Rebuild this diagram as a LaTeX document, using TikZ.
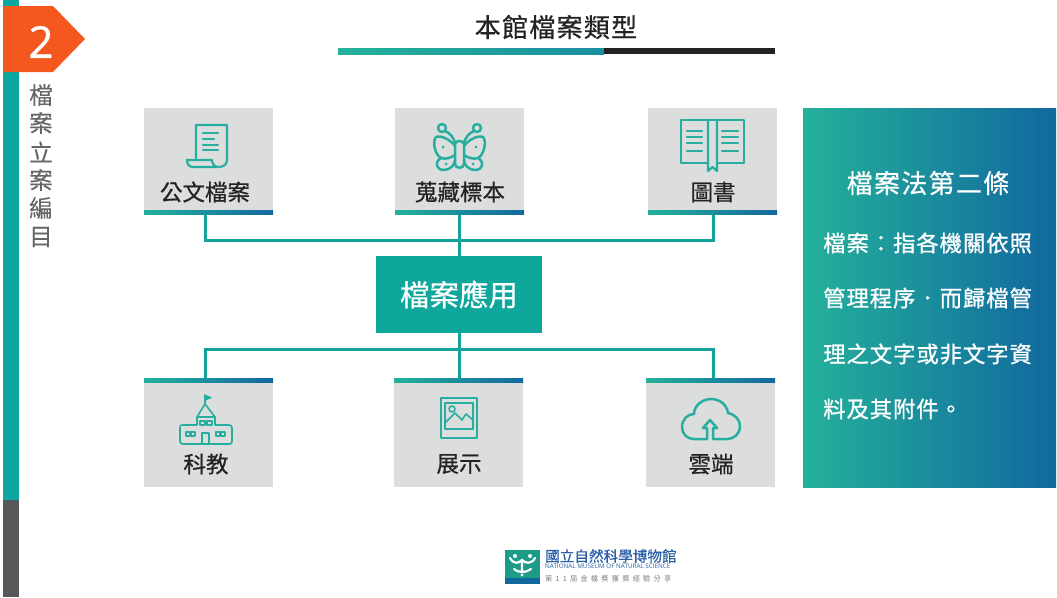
\documentclass[tikz,border=0pt]{standalone}
\usepackage{fontspec}
\usetikzlibrary{calc}
\setmainfont{Open Sans}
\newfontfamily\cjk{Noto Sans CJK TC}
\newfontfamily\cjkv[FakeBold=0.25]{Noto Sans CJK TC}
\newfontfamily\cjkh[FakeBold=0.5]{Noto Sans CJK TC}
\newfontfamily\cjkb[FakeBold=0.6]{Noto Sans CJK TC}
\newfontfamily\cjkt[FakeBold=0.9,LetterSpace=4]{Noto Sans CJK TC}
\newfontfamily\numf[FakeBold=0.7]{Open Sans}
\definecolor{teal1}{HTML}{12A39B}
\definecolor{teal2}{HTML}{0CA7A0}
\definecolor{hubc}{HTML}{0FA79C}
\definecolor{icon}{HTML}{27AEA0}
\definecolor{grn}{HTML}{24B19A}
\definecolor{midb}{HTML}{1B8FA0}
\definecolor{blu}{HTML}{11689F}
\definecolor{boxg}{HTML}{DCDDDD}
\definecolor{org}{HTML}{F4581F}
\definecolor{dark}{HTML}{232323}
\definecolor{sidegray}{HTML}{58585A}
\definecolor{vtxt}{HTML}{666666}
\definecolor{lgreen}{HTML}{1C9C86}
\definecolor{lblue}{HTML}{2A5FA5}
\tikzset{
  x=1pt,y=-1pt,
  catbox/.style={fill=boxg,minimum width=129pt,inner sep=0pt,outer sep=0pt},
  lab/.style={font=\cjkb\fontsize{22.5}{22.5}\selectfont,text=dark,inner sep=0pt},
  vch/.style={font=\cjkv\fontsize{23.5}{23.5}\selectfont,text=vtxt,inner sep=0pt},
  pline/.style={font=\cjkt\fontsize{22.4}{22.4}\selectfont,text=white,inner sep=0pt,anchor=west},
  conn/.style={draw=teal1,line width=3pt,line join=miter},
  ic/.style={draw=icon,line width=2.2pt,line join=round,line cap=round},
  ict/.style={draw=icon,line width=1.6pt,line join=round,line cap=round},
  gbar/.style={left color=grn,right color=blu,draw=none}
}
\begin{document}
\begin{tikzpicture}
\useasboundingbox (0,0) rectangle (1057,597);
\fill[white] (0,0) rectangle (1057,597);
% side bar
\fill[teal2] (3,0) rectangle (19,500);
\fill[sidegray] (3,500) rectangle (19,597);
\fill[org] (3,6) -- (53,6) -- (85,39) -- (53,72) -- (3,72) -- cycle;
\node[text=white,font=\numf\fontsize{44}{44}\selectfont,inner sep=0pt] (num) at (41,42) {2};
\node[vch] (v1) at (41,95) {檔};
\node[vch] (v2) at (41,123) {案};
\node[vch] (v3) at (41,152) {立};
\node[vch] (v4) at (41,180) {案};
\node[vch] (v5) at (41,208) {編};
\node[vch] (v6) at (41,237) {目};
% title
\node[font=\cjkb\fontsize{26}{26}\selectfont,text=dark,inner sep=0pt] (title) at (556,27) {\addfontfeature{LetterSpace=5}本館檔案類型};
\shade[left color=grn,right color=midb] (338,48) rectangle (604,54);
\fill[dark] (604,48) rectangle (775,54);
% boxes top
\node[catbox,minimum height=103pt] (a) at (208.5,159.5) {};
\node[catbox,minimum height=103pt] (b) at (459.5,159.5) {};
\node[catbox,minimum height=103pt] (c) at (712.5,159.5) {};
% boxes bottom
\node[catbox,minimum height=108pt] (d) at (208.5,433) {};
\node[catbox,minimum height=108pt] (e) at (458.5,433) {};
\node[catbox,minimum height=108pt] (f) at (710.5,433) {};
% hub
\node[fill=hubc,minimum width=166pt,minimum height=77pt,inner sep=0pt,outer sep=0pt,text=white,font=\cjkh\fontsize{29.5}{29.5}\selectfont] (hub) at (459,294.5) {檔案應用};
% connectors
\coordinate (busT) at (459,240);
\coordinate (busB) at (459,349);
\coordinate (aS) at (205.5,212);
\coordinate (bS) at (459,212);
\coordinate (cS) at (713,212);
\coordinate (dN) at (205.5,379);
\coordinate (eN) at (459,379);
\coordinate (fN) at (713,379);
\draw[conn] (aS) |- (busT) -| (cS);
\draw[conn] (bS) -- (hub.north);
\draw[conn] (hub.south) -- (eN);
\draw[conn] (dN) |- (busB) -| (fN);
% gradient bars
\shade[gbar] (144,210) rectangle (273,214);
\shade[gbar] (395,210) rectangle (524,214);
\shade[gbar] (648,210) rectangle (777,214);
\shade[gbar] (144,378) rectangle (273,382);
\shade[gbar] (394,378) rectangle (523,382);
\shade[gbar] (646,378) rectangle (775,382);
% labels
\node[lab] (la) at (205,192) {公文檔案};
\node[lab] (lb) at (460,192) {蒐藏標本};
\node[lab] (lc) at (713,192) {圖書};
\node[lab] (ld) at (206,464) {科教};
\node[lab] (le) at (459,464) {展示};
\node[lab] (lf) at (711,464) {雲端};
% doc icon
\draw[ic] (196,158) -- (196,125) -- (227,125) -- (227,160) .. controls (227,165) and (223,167) .. (218,167) -- (193,167) .. controls (189,167) and (187,164) .. (187,160) -- (212,160) .. controls (212,164) and (215,167) .. (218,167);
\draw[ic] (203,133) -- (218,133) (203,139) -- (214,139) (203,145) -- (218,145) (203,150) -- (218,150);
% butterfly
\begin{scope}[ic,line width=2.5pt]
\draw (442,128) circle (4);
\draw (477,128) circle (4);
\draw (445,131) .. controls (450,133) and (454,138) .. (455,143);
\draw (474,131) .. controls (469,133) and (465,138) .. (464,143);
\draw (455,144) -- (455,164) .. controls (455,169) and (464,169) .. (464,164) -- (464,144) .. controls (464,140) and (455,140) .. (455,144);
\draw (455,146) .. controls (450,139) and (440,135) .. (436,137) .. controls (432,141) and (435,155) .. (441,158) .. controls (446,160) and (452,157) .. (455,155);
\draw (464,146) .. controls (469,139) and (479,135) .. (483,137) .. controls (487,141) and (484,155) .. (478,158) .. controls (473,160) and (467,157) .. (464,155);
\draw (441,158) .. controls (434,162) and (436,170) .. (444,170) .. controls (450,170) and (455,165) .. (455,160);
\draw (478,158) .. controls (485,162) and (483,170) .. (475,170) .. controls (469,170) and (464,165) .. (464,160);
\fill[icon] (443,147) circle (1.5) (476,147) circle (1.5) (446,164) circle (1.5) (473,164) circle (1.5);
\end{scope}
% book
\draw[ic] (708,163) -- (681,163) -- (681,120) -- (744,120) -- (744,163) -- (717,163);
\draw[ic] (708,120) -- (708,171) -- (712.5,167) -- (717,171) -- (717,120);
\draw[ic] (687,131) -- (702,131) (687,137) -- (702,137) (687,143) -- (702,143) (687,151) -- (702,151);
\draw[ic] (722,131) -- (738,131) (722,137) -- (738,137) (722,143) -- (738,143) (722,151) -- (738,151);
% school
\begin{scope}[ict]
\draw (205,404) -- (205,395);
\fill[icon] (205,394.5) -- (212,397.5) -- (205,401) -- cycle;
\draw (197,417) -- (205,404) -- (215,417) -- cycle;
\draw (197,417) -- (197,425) -- (182,425) .. controls (180,425) and (180,426) .. (180,428) -- (180,441) .. controls (180,443) and (181,444) .. (183,444) -- (230,444) .. controls (232,444) and (232,442) .. (232,441) -- (232,428) .. controls (232,426) and (231,425) .. (229,425) -- (215,425) -- (215,417);
\draw (202,444) -- (202,433) -- (209,433) -- (209,444);
\draw (186,432) rectangle (190,436) (191,432) rectangle (195,436);
\draw (216,432) rectangle (220,436) (221,432) rectangle (225,436);
\draw (200,421) rectangle (205,425) (207,421) rectangle (212,425);
\end{scope}
% picture
\draw[ic] (441,398) rectangle (477,438);
\draw[ict] (445,403) rectangle (473,429);
\draw[ict] (445,423) -- (455,413) -- (462,420) -- (466,414) -- (473,420);
\draw[ict] (452,409) circle (3);
% cloud
\draw[ic,line width=2.5pt] (707,439) -- (694,439) .. controls (687,439) and (682,434) .. (682,427) .. controls (682,419) and (688,414) .. (694,414) .. controls (694,406) and (702,399) .. (711,399) .. controls (720,399) and (727,405) .. (728,413) .. controls (734,414) and (740,419) .. (740,426) .. controls (740,434) and (734,439) .. (727,439) -- (713,439) -- (713,428) -- (717,428) -- (710,420) -- (703,428) -- (707,428) -- cycle;
% right panel
\node[left color=grn,right color=blu,minimum width=253pt,minimum height=379pt,inner sep=0pt,outer sep=0pt] (panel) at (929.5,297.5) {};
\node[font=\cjkb\fontsize{26}{26}\selectfont,text=white,inner sep=0pt] (ptitle) at (928,183) {\addfontfeature{LetterSpace=5}檔案法第二條};
\node[pline] (p1) at (823,243) {檔案：指各機關依照};
\node[pline] (p2) at (823,298) {管理程序．而歸檔管};
\node[pline] (p3) at (823,354) {理之文字或非文字資};
\node[pline] (p4) at (823,409) {料及其附件。};
% logo
\fill[lgreen] (505,550) rectangle (540,578);
\fill[blu] (505,578) rectangle (540,584);
\draw[white,line width=2.2pt,line cap=round] (510,558) .. controls (514,565) and (519,563) .. (522,560) .. controls (525,563) and (531,565) .. (535,558);
\draw[white,line width=2.2pt,line cap=round] (522,560) -- (522,572) (514,569) .. controls (518,573) and (526,573) .. (531,569);
\fill[white] (515,556) circle (2) (530,556) circle (2) (522,575) circle (1.6);
\node[font=\cjkb\fontsize{14.6}{14.6}\selectfont,text=lblue,inner sep=0pt,anchor=west] (lg1) at (545,556) {國立自然科學博物館};
\node[font=\fontsize{6.3}{6.3}\selectfont,text=lblue,inner sep=0pt,anchor=west] (lg2) at (545,566) {NATIONAL MUSEUM OF NATURAL SCIENCE};
\node[font=\cjk\fontsize{7.2}{7.2}\selectfont,text=gray,inner sep=0pt,anchor=west] (lg3) at (545,579) {\addfontfeature{LetterSpace=45}第11屆金檔獎獲獎經驗分享};
\end{tikzpicture}
\end{document}
